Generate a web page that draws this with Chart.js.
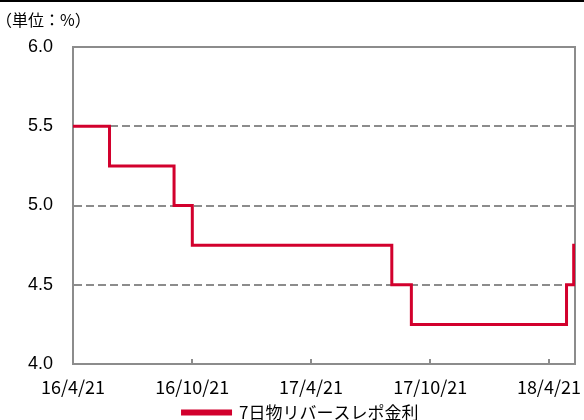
<!DOCTYPE html>
<html>
<head>
<meta charset="utf-8">
<script src="https://cdn.jsdelivr.net/npm/chart.js@4"></script>
<style>
  body { margin: 0; background: #fff; }
  #wrap { position: relative; width: 584px; height: 420px; }
  #topline { position: absolute; left: 0; top: 0; width: 584px; height: 2px; background: #000; }
  #unit { position: absolute; left: -4px; top: 7px; font: 16px "Noto Sans CJK JP", sans-serif; color: #000; }
</style>
</head>
<body>
<div id="wrap">
  <canvas id="chart" width="584" height="420"></canvas>
  <div id="topline"></div>
  <div id="unit">（単位：%）</div>
</div>
<script>
// policy rate changes (date the new rate starts) and the last day shown
var startDate = '2016-04-21';
var rateDates = ['2016-04-21', '2016-06-16', '2016-09-23', '2016-10-21', '2017-08-23', '2017-09-22', '2018-05-18', '2018-05-29', '2018-05-31'];
var rateValues = [5.5, 5.25, 5.0, 4.75, 4.5, 4.25, 4.5, 4.75, 4.75];
var tickDates = ['2016-04-21', '2016-10-21', '2017-04-21', '2017-10-21', '2018-04-21'];
var tickLabels = ['16/4/21', '16/10/21', '17/4/21', '17/10/21', '18/4/21'];
var seriesName = '7日物リバースレポ金利';

function dayNo(s) {
    return Math.round((Date.parse(s) - Date.parse(startDate)) / 86400000);
}

var points = rateDates.map(function(d, i) {
    return { x: dayNo(d), y: rateValues[i] };
});
var tickDays = tickDates.map(dayNo);

var red = '#d2002d';
var gray = '#8c8c8c';

// plot frame and short inner tick marks on the date axis
var framePlugin = {
    id: 'frame',
    beforeDatasetsDraw: function(chart) {
        var a = chart.chartArea;
        var ctx = chart.ctx;
        var xs = chart.scales.x;
        ctx.save();
        ctx.strokeStyle = gray;
        ctx.lineWidth = 2;
        ctx.strokeRect(a.left, a.top, a.right - a.left, a.bottom - a.top);
        tickDays.forEach(function(d) {
            var px = Math.round(xs.getPixelForValue(d));
            ctx.beginPath();
            ctx.moveTo(px, a.bottom);
            ctx.lineTo(px, a.bottom - 5);
            ctx.stroke();
        });
        ctx.restore();
    }
};

new Chart(document.getElementById('chart').getContext('2d'), {
    type: 'line',
    data: {
        datasets: [{
            label: seriesName,
            data: points,
            borderColor: red,
            backgroundColor: red,
            borderWidth: 3,
            stepped: 'before',
            pointRadius: 0,
            fill: false
        }]
    },
    options: {
        responsive: false,
        animation: false,
        layout: { padding: { top: 47, right: 9, left: 26, bottom: -11 } },
        plugins: {
            legend: {
                position: 'bottom',
                labels: {
                    boxWidth: 48,
                    boxHeight: 3,
                    padding: 4,
                    color: '#000',
                    font: { family: '"Noto Sans CJK JP"', size: 17 }
                }
            },
            tooltip: { enabled: false }
        },
        scales: {
            x: {
                type: 'linear',
                min: 0,
                max: points[points.length - 1].x,
                afterBuildTicks: function(scale) {
                    scale.ticks = tickDays.map(function(v) { return { value: v }; });
                },
                afterFit: function(scale) {
                    scale.height = 36;
                    scale.paddingLeft = 0;
                    scale.paddingRight = 0;
                },
                grid: { display: false },
                border: { display: true, color: gray, width: 2 },
                ticks: {
                    padding: 4,
                    maxRotation: 0,
                    autoSkip: false,
                    color: '#000',
                    font: { family: '"Noto Sans CJK JP"', size: 18 },
                    callback: function(v) {
                        var i = tickDays.indexOf(v);
                        return i >= 0 ? tickLabels[i] : '';
                    }
                }
            },
            y: {
                min: 4,
                max: 6,
                afterFit: function(scale) { scale.width = 47; },
                grid: { color: gray, lineWidth: 2, drawTicks: false },
                border: { display: true, color: gray, width: 2, dash: [8, 4] },
                ticks: {
                    stepSize: 0.5,
                    padding: 20,
                    color: '#000',
                    font: { family: '"Liberation Sans"', size: 18 },
                    callback: function(v) { return v.toFixed(1); }
                }
            }
        }
    },
    plugins: [framePlugin]
});
</script>
</body>
</html>
